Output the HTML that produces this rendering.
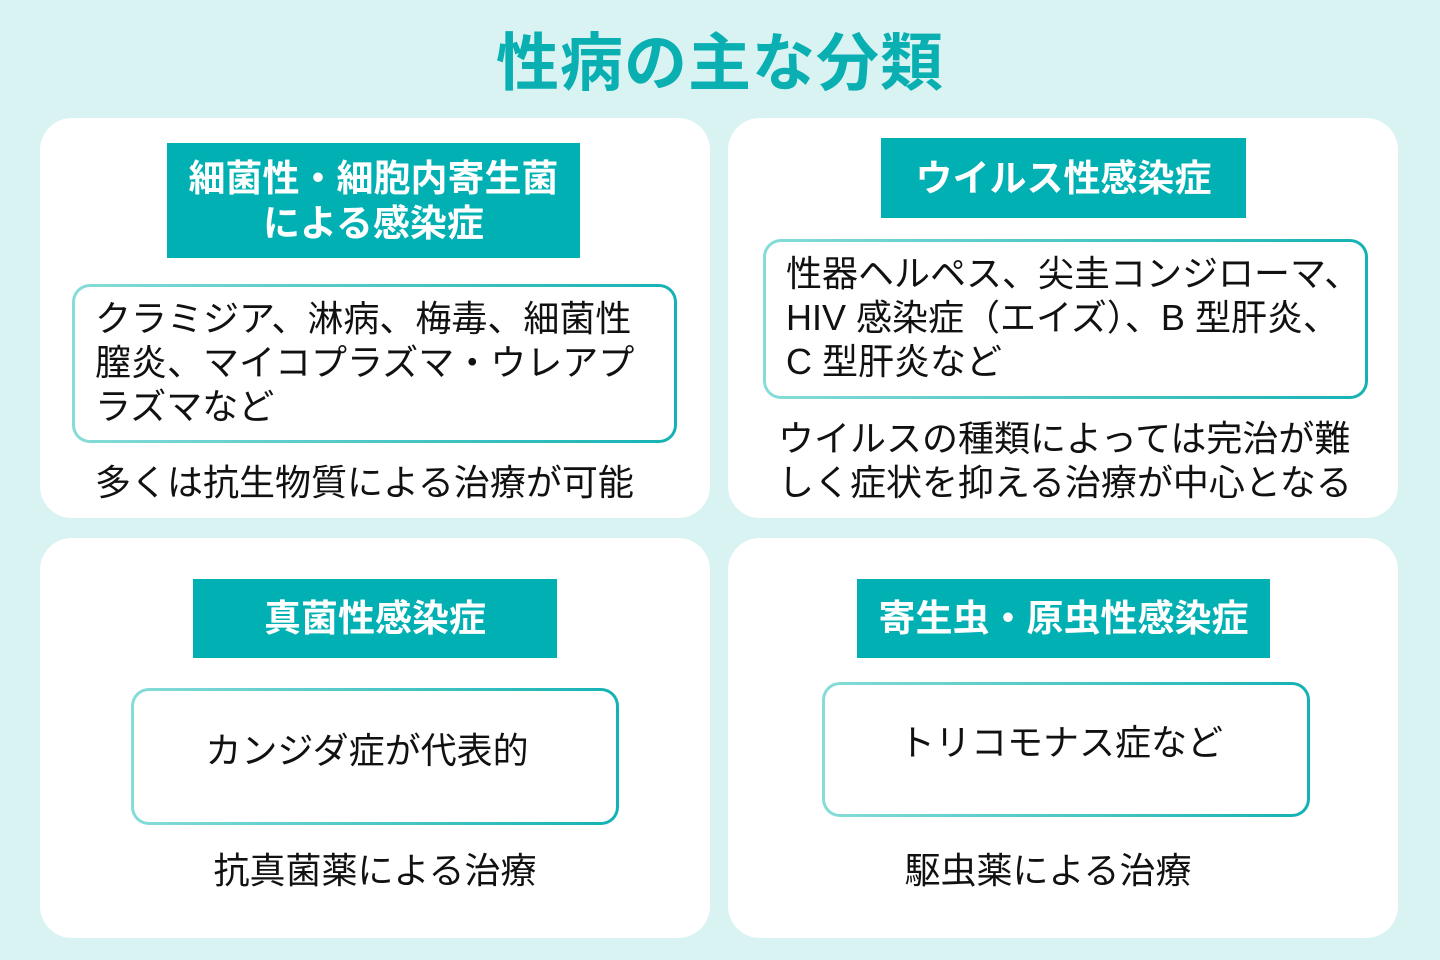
<!DOCTYPE html>
<html><head><meta charset="utf-8"><style>
*{margin:0;padding:0;box-sizing:border-box}
body{width:1440px;height:960px;background:#d9f3f2;position:relative;overflow:hidden;font-family:"Liberation Sans","Noto Sans CJK JP",sans-serif;color:#111}
.a{position:absolute}
.title{left:0;width:1440px;top:24px;text-align:center;font-size:63px;font-weight:bold;color:#0aafb1;line-height:80px;letter-spacing:1px}
.card{background:#fff;border-radius:32px}
.hd{background:#00b0b2;color:#fff;font-weight:bold;font-size:37px;line-height:45px;text-align:center;display:flex;align-items:center;justify-content:center;white-space:nowrap}
.bx{border:3px solid transparent;border-radius:18px;background:linear-gradient(#fff,#fff) padding-box,linear-gradient(90deg,#86dcd8,#14b2b4) border-box}
.t{font-size:36px;line-height:44px;white-space:nowrap}
</style></head><body>
<div class="a title">性病の主な分類</div>
<div class="a card" style="left:40px;top:118px;width:670px;height:400px"></div>
<div class="a card" style="left:728px;top:118px;width:670px;height:400px"></div>
<div class="a card" style="left:40px;top:538px;width:670px;height:400px"></div>
<div class="a card" style="left:728px;top:538px;width:670px;height:400px"></div>

<div class="a hd" style="left:167px;top:143px;width:413px;height:115px">細菌性・細胞内寄生菌<br>による感染症</div>
<div class="a bx" style="left:72px;top:284px;width:605px;height:159px"></div>
<div class="a t" style="left:95px;top:297px">クラミジア、淋病、梅毒、細菌性<br>膣炎、マイコプラズマ・ウレアプ<br>ラズマなど</div>
<div class="a t" style="left:95px;top:461px">多くは抗生物質による治療が可能</div>

<div class="a hd" style="left:881px;top:138px;width:365px;height:80px">ウイルス性感染症</div>
<div class="a bx" style="left:763px;top:239px;width:605px;height:160px"></div>
<div class="a t" style="left:786px;top:252px">性器ヘルペス、尖圭コンジローマ、<br>HIV 感染症（エイズ）、B 型肝炎、<br>C 型肝炎など</div>
<div class="a t" style="left:778px;top:417px">ウイルスの種類によっては完治が難<br>しく症状を抑える治療が中心となる</div>

<div class="a hd" style="left:193px;top:579px;width:364px;height:79px">真菌性感染症</div>
<div class="a bx" style="left:131px;top:688px;width:488px;height:137px"></div>
<div class="a t" style="left:123px;width:488px;text-align:center;top:729px">カンジダ症が代表的</div>
<div class="a t" style="left:40px;width:670px;text-align:center;top:849px">抗真菌薬による治療</div>

<div class="a hd" style="left:857px;top:579px;width:413px;height:79px">寄生虫・原虫性感染症</div>
<div class="a bx" style="left:822px;top:682px;width:488px;height:135px"></div>
<div class="a t" style="left:817px;width:488px;text-align:center;top:721px">トリコモナス症など</div>
<div class="a t" style="left:728px;width:640px;text-align:center;top:849px">駆虫薬による治療</div>
</body></html>
